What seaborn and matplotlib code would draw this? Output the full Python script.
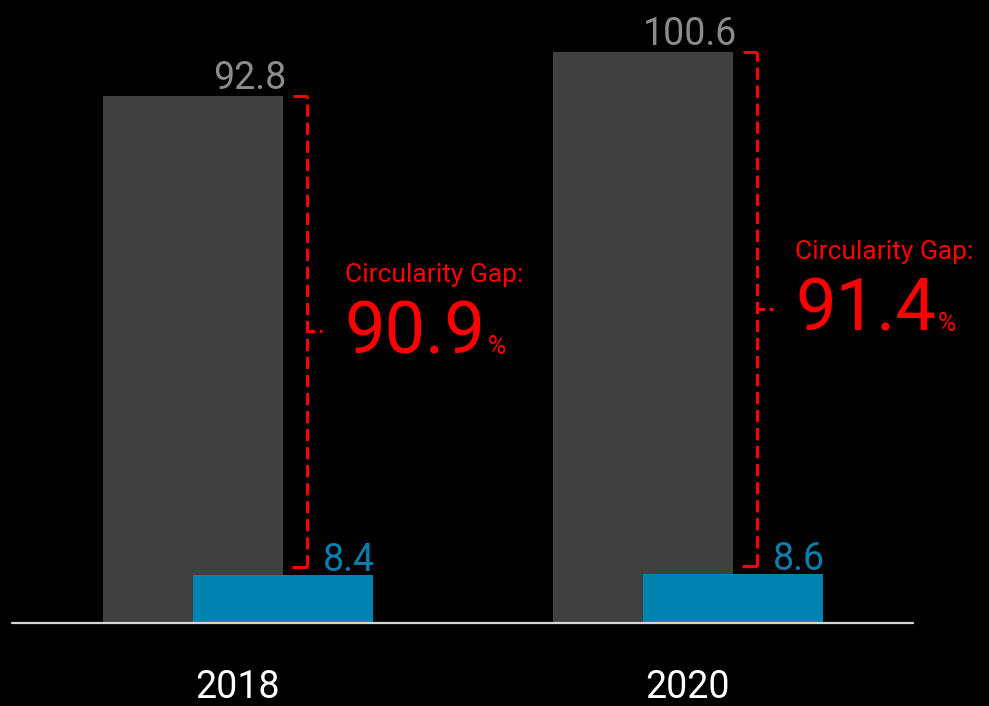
import numpy as np
import matplotlib
matplotlib.use('Agg')
import matplotlib.pyplot as plt
import seaborn as sns

# ---- data ----
years = ['2018', '2020']
extracted = [92.8, 100.6]   # grey bars
cycled = [8.4, 8.6]         # blue bars
gap_pct = [90.9, 91.4]      # circularity gap %

sns.set_theme(style='white')
plt.rcParams['font.family'] = ['Roboto', 'DejaVu Sans']

W, H = 989, 706
fig = plt.figure(figsize=(W / 100, H / 100), dpi=100, facecolor='black')
ax = fig.add_axes([0, 83 / H, 1, 623 / H])
ax.set_facecolor('black')

grey = '#404040'
blue = '#0083b0'
red = '#ff0000'
grey_txt = '#8c8c8c'
blue_txt = '#0a7fae'

pos = np.arange(len(years))
sns.barplot(x=pos - 0.1, y=extracted, native_scale=True, width=0.4, color=grey,
            saturation=1, orient='x', errorbar=None, linewidth=0, ax=ax)
sns.barplot(x=pos + 0.1, y=cycled, native_scale=True, width=0.4, color=blue,
            saturation=1, orient='x', errorbar=None, linewidth=0, ax=ax)

px_per_unit = 5.677
ax.set_ylim(0, 623 / px_per_unit)
ax.set_xlim(-0.528, 1.6685)
for s in ax.spines.values():
    s.set_visible(False)
ax.set_yticks([])
ax.set_xticks(pos)
ax.set_xticklabels(years, color='white', fontsize=27)
ax.tick_params(axis='x', length=0, pad=33)
ax.set_xlabel('')
ax.set_ylabel('')

# baseline
ax.axhline(0, xmin=12 / W, xmax=913 / W, color='#d6d6d6', lw=1.6, clip_on=False, zorder=5)

dash = (0, (4.0, 1.9))
for i, xc in enumerate(pos):
    top = extracted[i]
    bot = cycled[i] + 1.5
    mid = (top + bot) / 2
    bx = xc + 0.153
    ax.plot([bx, bx], [bot, top], color=red, lw=2.2, linestyle=dash, solid_capstyle='butt')
    ax.plot([bx - 0.03, bx], [top, top], color=red, lw=2.2, solid_capstyle='butt')
    ax.plot([bx - 0.033, bx], [bot, bot], color=red, lw=2.2, solid_capstyle='butt')
    ax.plot([bx, bx + 0.035], [mid, mid], color=red, lw=2.2, linestyle=(0, (2.5, 1.5)),
            solid_capstyle='butt')

    # value labels
    ax.text(xc + 0.1 + 0.009, top + 1.2, f'{extracted[i]}', ha='right', va='baseline',
            color=grey_txt, fontsize=27)
    ax.text(xc + 0.3 + 0.004, cycled[i] + 0.8, f'{cycled[i]}', ha='right', va='baseline',
            color=blue_txt, fontsize=27)

    # gap annotation
    tx = xc + 0.238
    ax.text(tx, mid + 8.8, 'Circularity Gap:', ha='left', va='baseline', color=red,
            fontsize=19)
    big = ax.text(tx, mid - 3.9, f'{gap_pct[i]}', ha='left', va='baseline', color=red,
                  fontsize=52)
    ax.annotate('%', xy=(1, mid - 3.9), xycoords=(big, 'data'), xytext=(2, 0),
                textcoords='offset pixels', ha='left', va='baseline', color=red,
                fontsize=18)

fig.savefig('out.png', dpi=100, facecolor='black')
